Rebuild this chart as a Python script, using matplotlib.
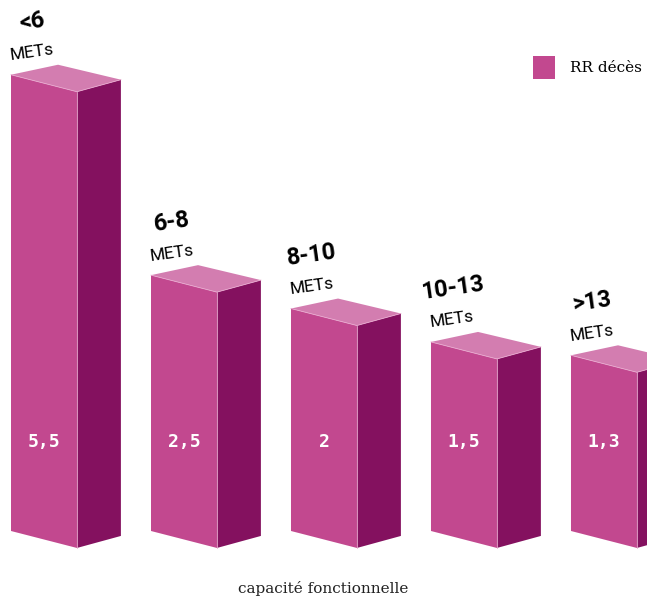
import matplotlib
matplotlib.use("Agg")
import matplotlib.pyplot as plt
from matplotlib.patches import Polygon, Patch

# data
categories = ['<6', '6-8', '8-10', '10-13', '>13']
unit = 'METs'
rr_values = [5.5, 2.5, 2, 1.5, 1.3]
series_name = 'RR décès'
xlabel = 'capacité fonctionnelle'

# colors
FRONT = '#C2488F'
SIDE = '#84115F'
TOP = '#D37DB0'
EDGE = '#E9A9CF'

# fake-3d geometry (data units)
base = -1.33       # where bars start on the value axis
w = 0.471          # front face width
sw = 0.314         # side face width
drop = 0.254       # slant of front face
rise = 0.180       # slant of side face
bx, by = 0.336, 0.150

fig = plt.figure(figsize=(6.47, 5.97), dpi=100)
ax = fig.add_axes([0, 0, 1, 1])
ax.set_xlim(-0.0786, 4.543)
ax.set_ylim(-2.318, 6.619)
ax.axis('off')

for i, (cat, v) in enumerate(zip(categories, rr_values)):
    xl, xr, xs = i, i + w, i + w + sw
    front = Polygon([(xl, base), (xr, base - drop), (xr, v - drop), (xl, v)],
                    closed=True, facecolor=FRONT, edgecolor='none')
    side = Polygon([(xr, base - drop), (xs, base - drop + rise),
                    (xs, v - drop + rise), (xr, v - drop)],
                   closed=True, facecolor=SIDE, edgecolor='none')
    top = Polygon([(xl, v), (xl + bx, v + by), (xs, v - drop + rise), (xr, v - drop)],
                  closed=True, facecolor=TOP, edgecolor='none')
    for p in (front, side, top):
        ax.add_patch(p)
    # light edges between faces
    ax.plot([xr, xr], [base - drop, v - drop], color=EDGE, lw=0.6)
    ax.plot([xl, xr, xs], [v, v - drop, v - drop + rise], color=EDGE, lw=0.6)

    # category labels above
    cx = i + 0.15
    ax.text(cx, v + 0.33, unit, ha='center', va='center', rotation=8,
            fontsize=12.5, color='black', family='Roboto')
    ax.text(cx, v + 0.80, cat, ha='center', va='center', rotation=8,
            fontsize=17, fontweight='bold', color='black', family='Roboto')

    # value label inside the front face
    ax.text(i + w / 2, 0.0, f'{v:g}'.replace('.', ','), ha='center', va='center',
            fontsize=13, fontweight='bold', color='white', family='DejaVu Sans Mono')

ax.text(0.5, 0.015, xlabel, transform=ax.transAxes, ha='center', va='center',
        fontsize=11, family='DejaVu Serif', color='#222222')

ax.legend(handles=[Patch(facecolor=FRONT, edgecolor='none', label=series_name)],
          loc='upper left', bbox_to_anchor=(533 / 647, 1 - 56 / 597), frameon=False,
          borderpad=0, borderaxespad=0,
          handlelength=1.45, handleheight=1.9, handletextpad=1.0,
          prop={'family': 'DejaVu Serif', 'size': 11})

fig.savefig('out.png', dpi=100)
